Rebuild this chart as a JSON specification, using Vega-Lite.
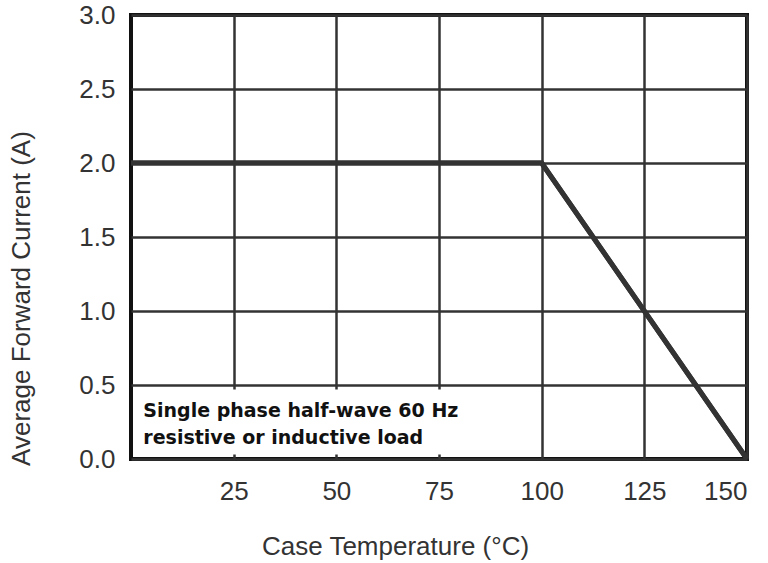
{
  "$schema": "https://vega.github.io/schema/vega-lite/v6.json",
  "width": 616,
  "height": 444,
  "autosize": "none",
  "padding": {"left": 131, "top": 15, "right": 21, "bottom": 104},
  "background": "white",
  "config": {
    "view": {"stroke": "#111", "strokeWidth": 4},
    "axis": {
      "domain": false,
      "ticks": false,
      "tickSize": 0,
      "grid": true,
      "gridColor": "#333",
      "gridWidth": 2.5,
      "gridOpacity": 1,
      "labelFont": "Liberation Sans",
      "labelFontSize": 26,
      "labelColor": "#333",
      "titleFont": "Liberation Sans",
      "titleFontSize": 26,
      "titleFontWeight": "normal",
      "titleColor": "#333"
    }
  },
  "layer": [
    {
      "data": {"values": [
        {"temp": 0, "current": 2.0},
        {"temp": 100, "current": 2.0},
        {"temp": 150, "current": 0.0}
      ]},
      "mark": {"type": "line", "color": "#333", "strokeWidth": 5, "strokeJoin": "miter"},
      "encoding": {
        "x": {
          "field": "temp", "type": "quantitative",
          "scale": {"domain": [0, 150], "nice": false, "zero": false},
          "axis": {
            "values": [25, 50, 75, 100, 125, 150],
            "title": "Case Temperature (°C)",
            "labelBaseline": "alphabetic",
            "labelPadding": 40,
            "titleX": 264,
            "titleY": 95,
            "titleAlign": "center",
            "titleBaseline": "alphabetic"
          }
        },
        "y": {
          "field": "current", "type": "quantitative",
          "scale": {"domain": [0, 3], "nice": false},
          "axis": {
            "values": [0, 0.5, 1, 1.5, 2, 2.5, 3],
            "format": ".1f",
            "title": "Average Forward Current (A)",
            "labelBaseline": "middle",
            "labelAlign": "right",
            "labelPadding": 16,
            "titleAngle": 270,
            "titleX": -102,
            "titleY": 283,
            "titleAlign": "center",
            "titleBaseline": "alphabetic"
          }
        }
      }
    },
    {
      "data": {"values": [{"x1": 1, "x2": 99, "y1": 0.03, "y2": 0.47}]},
      "mark": {"type": "rect", "color": "white", "opacity": 1},
      "encoding": {
        "x": {"field": "x1", "type": "quantitative"},
        "x2": {"field": "x2"},
        "y": {"field": "y1", "type": "quantitative"},
        "y2": {"field": "y2"}
      }
    },
    {
      "data": {"values": [
        {"temp": 0, "current": 2.0},
        {"temp": 100, "current": 2.0},
        {"temp": 150, "current": 0.0}
      ]},
      "mark": {"type": "line", "color": "#333", "strokeWidth": 5, "strokeJoin": "miter"},
      "encoding": {
        "x": {"field": "temp", "type": "quantitative"},
        "y": {"field": "current", "type": "quantitative"}
      }
    },
    {
      "data": {"values": [
        {"label": "Single phase half-wave 60 Hz", "tx": 3, "ty": 0.282},
        {"label": "resistive or inductive load", "tx": 3, "ty": 0.099}
      ]},
      "mark": {
        "type": "text",
        "align": "left",
        "baseline": "alphabetic",
        "font": "DejaVu Sans",
        "fontWeight": "bold",
        "fontSize": 19,
        "color": "#111"
      },
      "encoding": {
        "x": {"field": "tx", "type": "quantitative"},
        "y": {"field": "ty", "type": "quantitative"},
        "text": {"field": "label"}
      }
    }
  ]
}
